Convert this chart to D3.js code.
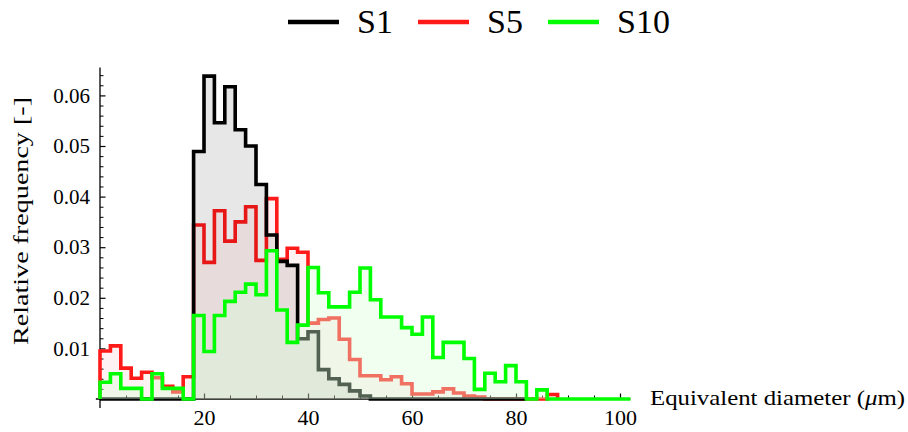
<!DOCTYPE html>
<html><head><meta charset="utf-8">
<script src="https://cdn.jsdelivr.net/npm/d3@7/dist/d3.min.js"></script>
<style>
body{margin:0;background:#fff}
svg{display:block}
text{font-family:"Liberation Serif","Times New Roman",serif;fill:#000}
</style>
</head><body>
<svg id="c" width="908" height="432"></svg>
<script>
// ---- data ----
const seriesNames = ["S1", "S5", "S10"];
const seriesColors = ["#000000", "#ff1a1a", "#00ff00"];
const binWidth = 2; // µm, bins start at 0
// relative frequency per 2 µm bin, starting at 0 µm
const s1 = [0,0,0,0,0,0,0,0,0,
  0.0489,0.0638,0.0546,0.0617,0.0532,0.0500,0.0424,0.0324,0.0272,0.0264,
  0.0119,0.0133,0.0058,0.0040,0.0029,0.0016,0.0006,0.0,
  0,0,0,0,0,0,0,0,0,0,0,0,0,0];
const s5 = [0.0095,0.0105,0.0061,0.0041,0.0053,0.0042,0.0025,0.0014,0.0044,
  0.0344,0.0270,0.0372,0.0312,0.0350,0.0380,0.0274,0.0396,0.0276,0.0298,
  0.0290,0.0150,0.0157,0.0160,0.0118,0.0078,0.0046,0.0046,0.0038,0.0044,
  0.0030,0.0010,0.0010,0.0014,0.0020,0.0012,0.0006,0.0004,
  0,0,0,0,0,0,0.0009];
const s10 = [0.0033,0.0050,0.0021,0.0021,0.0,0.0050,0.0021,0.0021,0.0,
  0.0165,0.0094,0.0165,0.0193,0.0211,0.0227,0.0206,0.0293,0.0176,0.0112,
  0.0146,0.0260,0.0210,0.0182,0.0182,0.0211,0.0259,0.0196,0.0162,0.0162,
  0.0141,0.0128,0.0162,0.0082,0.0112,0.0112,0.0080,0.0019,0.0051,0.0034,
  0.0066,0.0034,0.0,0.0018,
  0,0,0,0,0,0,0,0];
const xMajorTicks = [20, 40, 60, 80, 100];
const xMinorTicks = [5,10,15,25,30,35,45,50,55,65,70,75,85,90,95];
const yMajorTicks = [0.01, 0.02, 0.03, 0.04, 0.05, 0.06];
const yMinorTicks = [0.002,0.004,0.006,0.008,0.012,0.014,0.016,0.018,0.022,0.024,0.026,0.028,
  0.032,0.034,0.036,0.038,0.042,0.044,0.046,0.048,0.052,0.054,0.056,0.058,0.062,0.064];
const xLabel = "Equivalent diameter (";
const yLabel = "Relative frequency [-]";

// ---- layout ----
const svg = d3.select("#c");
const x = d3.scaleLinear().domain([0, 100]).range([100, 620]);
const y = d3.scaleLinear().domain([0, 0.06]).range([399, 95.4]);

// axes (drawn under data)
const ax = svg.append("g").attr("stroke", "#000").attr("stroke-width", 1.3);
ax.append("line").attr("x1", x(-0.8)).attr("x2", x(102)).attr("y1", y(0)).attr("y2", y(0));
ax.append("line").attr("x1", x(0)).attr("x2", x(0)).attr("y1", y(-0.0018)).attr("y2", y(0.0655));

const xAxis = d3.axisBottom(x).tickValues(xMajorTicks).tickSize(-5.5).tickPadding(10).tickFormat(d3.format("d"));
const gx = svg.append("g").attr("transform", `translate(0,${y(0)})`).call(xAxis);
gx.select(".domain").remove();
gx.selectAll(".tick line").attr("stroke-width", 1.2);
gx.selectAll("text").attr("font-size", 22).attr("font-family", '"Liberation Serif",serif').attr("fill", "#000");
const gxm = svg.append("g").attr("transform", `translate(0,${y(0)})`)
  .call(d3.axisBottom(x).tickValues(xMinorTicks).tickSize(-3.5).tickFormat(""));
gxm.select(".domain").remove();
gxm.selectAll(".tick line").attr("stroke-width", 1);

const yAxis = d3.axisLeft(y).tickValues(yMajorTicks).tickSize(-5.5).tickPadding(10).tickFormat(d3.format(".2f"));
const gy = svg.append("g").attr("transform", `translate(${x(0)},0)`).call(yAxis);
gy.select(".domain").remove();
gy.selectAll(".tick line").attr("stroke-width", 1.2);
gy.selectAll("text").attr("font-size", 21).attr("font-family", '"Liberation Serif",serif').attr("fill", "#000");
const gym = svg.append("g").attr("transform", `translate(${x(0)},0)`)
  .call(d3.axisLeft(y).tickValues(yMinorTicks).tickSize(-3.5).tickFormat(""));
gym.select(".domain").remove();
gym.selectAll(".tick line").attr("stroke-width", 1);

// ---- histograms ----
function pts(vals) {
  const p = [[0, 0]];
  vals.forEach((v, i) => p.push([i * binWidth, v]));
  p.push([vals.length * binWidth, 0]);
  return p;
}
const line = d3.line().curve(d3.curveStepAfter).x(d => x(d[0])).y(d => y(d[1]));
const area = d3.area().curve(d3.curveStepAfter).x(d => x(d[0])).y0(y(0)).y1(d => y(d[1]));

const drawOrder = [
  {vals: s5, color: seriesColors[1], fill: "#ff0000", fo: 0.05},
  {vals: s1, color: seriesColors[0], fill: "#000000", fo: 0.095},
  {vals: s10, color: seriesColors[2], fill: "#d8ffd8", fo: 0.38}
];
const gd = svg.append("g");
drawOrder.forEach(s => {
  const p = pts(s.vals);
  gd.append("path").attr("d", area(p)).attr("fill", s.fill).attr("fill-opacity", s.fo);
  gd.append("path").attr("d", line(p)).attr("fill", "none").attr("stroke", s.color)
    .attr("stroke-width", 3.6).attr("stroke-linejoin", "miter");
});

// ---- labels ----
const xl = svg.append("text").attr("x", 650).attr("y", 405).attr("font-size", 22)
  .attr("textLength", 255).attr("lengthAdjust", "spacingAndGlyphs");
xl.append("tspan").text(xLabel);
xl.append("tspan").attr("font-style", "italic").text("\u03bc");
xl.append("tspan").text("m)");

svg.append("text").attr("transform", "translate(28,221) rotate(-90)").attr("text-anchor", "middle")
  .attr("font-size", 22).attr("textLength", 248).attr("lengthAdjust", "spacingAndGlyphs").text(yLabel);

// ---- legend ----
const legX = [288, 418, 548];
const lg = svg.append("g");
seriesNames.forEach((n, i) => {
  lg.append("line").attr("x1", legX[i]).attr("x2", legX[i] + 51).attr("y1", 22).attr("y2", 22)
    .attr("stroke", seriesColors[i]).attr("stroke-width", 4.5);
  lg.append("text").attr("x", legX[i] + 69).attr("y", 33).attr("font-size", 34).text(n);
});
</script>
</body></html>
